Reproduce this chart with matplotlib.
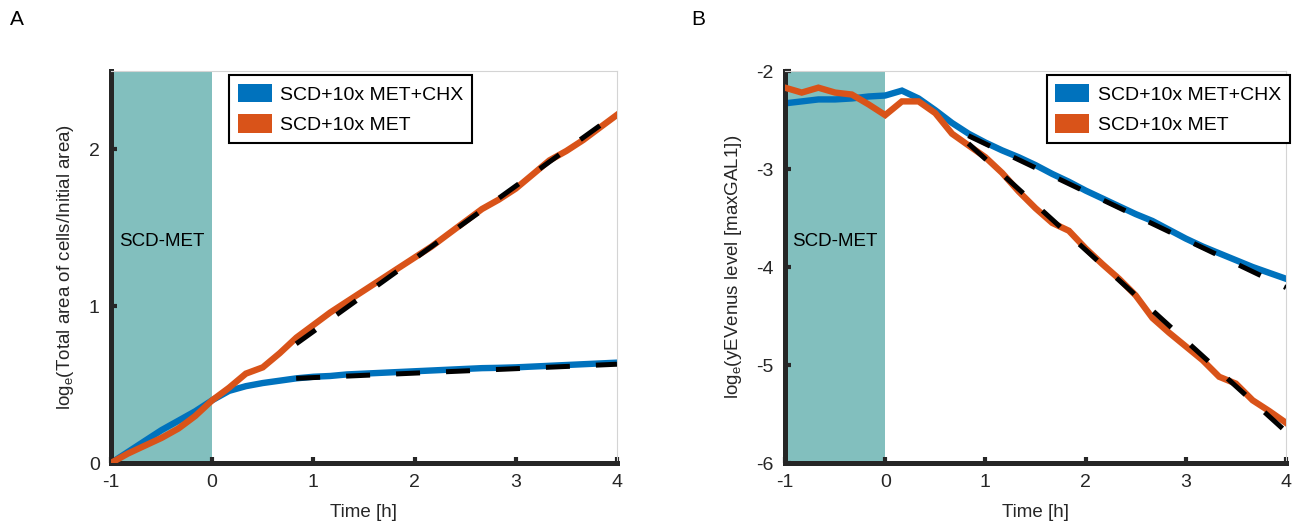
#!/usr/bin/env python3
import matplotlib
matplotlib.use('Agg')
import matplotlib.pyplot as plt
from matplotlib.patches import Patch

# time grid, 10 min sampling
t = [-1.0, -0.833, -0.667, -0.5, -0.333, -0.167, 0.0, 0.167, 0.333, 0.5,
     0.667, 0.833, 1.0, 1.167, 1.333, 1.5, 1.667, 1.833, 2.0, 2.167,
     2.333, 2.5, 2.667, 2.833, 3.0, 3.167, 3.333, 3.5, 3.667, 3.833, 4.0]

# A: log_e(total area / initial area)
area_chx = [0.0, 0.07, 0.14, 0.21, 0.27, 0.33, 0.40, 0.46, 0.49, 0.51,
            0.525, 0.54, 0.55, 0.555, 0.565, 0.57, 0.575, 0.58, 0.585, 0.59,
            0.595, 0.60, 0.605, 0.607, 0.61, 0.615, 0.62, 0.625, 0.63, 0.635, 0.64]
area_met = [0.0, 0.06, 0.11, 0.16, 0.22, 0.30, 0.40, 0.48, 0.57, 0.61,
            0.70, 0.80, 0.88, 0.96, 1.03, 1.10, 1.17, 1.24, 1.31, 1.38,
            1.46, 1.54, 1.62, 1.68, 1.75, 1.84, 1.93, 1.99, 2.06, 2.14, 2.22]

# B: log_e(yEVenus level)
ven_chx = [-2.33, -2.31, -2.29, -2.29, -2.28, -2.26, -2.25, -2.20, -2.28, -2.40,
           -2.53, -2.64, -2.73, -2.81, -2.88, -2.96, -3.05, -3.13, -3.22, -3.30,
           -3.38, -3.46, -3.53, -3.62, -3.71, -3.79, -3.86, -3.93, -4.00, -4.06, -4.12]
ven_met = [-2.17, -2.22, -2.17, -2.22, -2.24, -2.34, -2.45, -2.31, -2.31, -2.43,
           -2.64, -2.76, -2.88, -3.04, -3.23, -3.40, -3.55, -3.63, -3.81, -3.97,
           -4.12, -4.29, -4.52, -4.67, -4.81, -4.95, -5.12, -5.19, -5.36, -5.47, -5.59]

# linear fits (start/end of fitted window)
fit_t = [0.83, 4.0]
fitA_chx = [0.54, 0.63]
fitA_met = [0.76, 2.23]
fitB_chx = [-2.66, -4.21]
fitB_met = [-2.74, -5.68]

labels = ['SCD+10x MET+CHX', 'SCD+10x MET']
blue = '#0072BD'
orange = '#D95319'
teal = '#82BFBE'
dark = '#262626'

plt.rcParams['font.family'] = ['Liberation Sans', 'DejaVu Sans']
plt.rcParams['mathtext.default'] = 'regular'
plt.rcParams['axes.unicode_minus'] = False

fig = plt.figure(figsize=(13.04, 5.28), dpi=100)
axA = fig.add_axes([0.0851, 0.1231, 0.3880, 0.7424])
axB = fig.add_axes([0.6020, 0.1231, 0.3842, 0.7424])

panels = [
    (axA, area_chx, area_met, fitA_chx, fitA_met, (0, 2.5), [0, 1, 2],
     r'log$_e$(Total area of cells/Initial area)', 1.41, (0.233, 0.99), 'A', 0.008),
    (axB, ven_chx, ven_met, fitB_chx, fitB_met, (-6, -2), [-6, -5, -4, -3, -2],
     r'log$_e$(yEVenus level [maxGAL1])', -3.74, (0.522, 0.99), 'B', 0.530),
]

for ax, chx, met, fchx, fmet, ylim, yticks, ylabel, ytxt, legpos, letter, lx in panels:
    ax.axvspan(-1, 0, color=teal, lw=0, zorder=0)
    ax.text(-0.5, ytxt, 'SCD-MET', ha='center', va='center', fontsize=13.5, color='black')
    ax.plot(t, chx, color=blue, lw=4.6, solid_joinstyle='miter', zorder=2)
    ax.plot(t, met, color=orange, lw=4.6, solid_joinstyle='miter', zorder=3)
    for f in (fchx, fmet):
        ax.plot(fit_t, f, color='black', lw=3.6, dashes=(4.8, 5.2), zorder=4)

    ax.set_xlim(-1, 4)
    ax.set_ylim(*ylim)
    ax.set_xticks([-1, 0, 1, 2, 3, 4])
    ax.set_yticks(yticks)
    ax.tick_params(direction='in', length=4, width=3, color=dark, labelcolor=dark,
                   labelsize=14, pad=8)
    for s in ('left', 'bottom'):
        ax.spines[s].set_linewidth(3.6)
        ax.spines[s].set_color(dark)
    for s in ('top', 'right'):
        ax.spines[s].set_linewidth(0.8)
        ax.spines[s].set_color('#d4d4d4')
    ax.set_xlabel('Time [h]', fontsize=13.5, color=dark, labelpad=9)
    ax.set_ylabel(ylabel, fontsize=13.5, color=dark, labelpad=9)

    handles = [Patch(facecolor=blue, edgecolor='none'), Patch(facecolor=orange, edgecolor='none')]
    leg = ax.legend(handles, labels, loc='upper left', bbox_to_anchor=legpos, fontsize=14,
                    frameon=True, fancybox=False, handlelength=1.75, handleheight=1.1,
                    handletextpad=0.45, borderpad=0.45, labelspacing=0.55, borderaxespad=0)
    leg.get_frame().set_edgecolor('black')
    leg.get_frame().set_linewidth(1.5)
    leg.get_frame().set_alpha(1)

    fig.text(lx, 0.982, letter, fontsize=15, va='top', color='black')

fig.savefig('out.png', dpi=100)
